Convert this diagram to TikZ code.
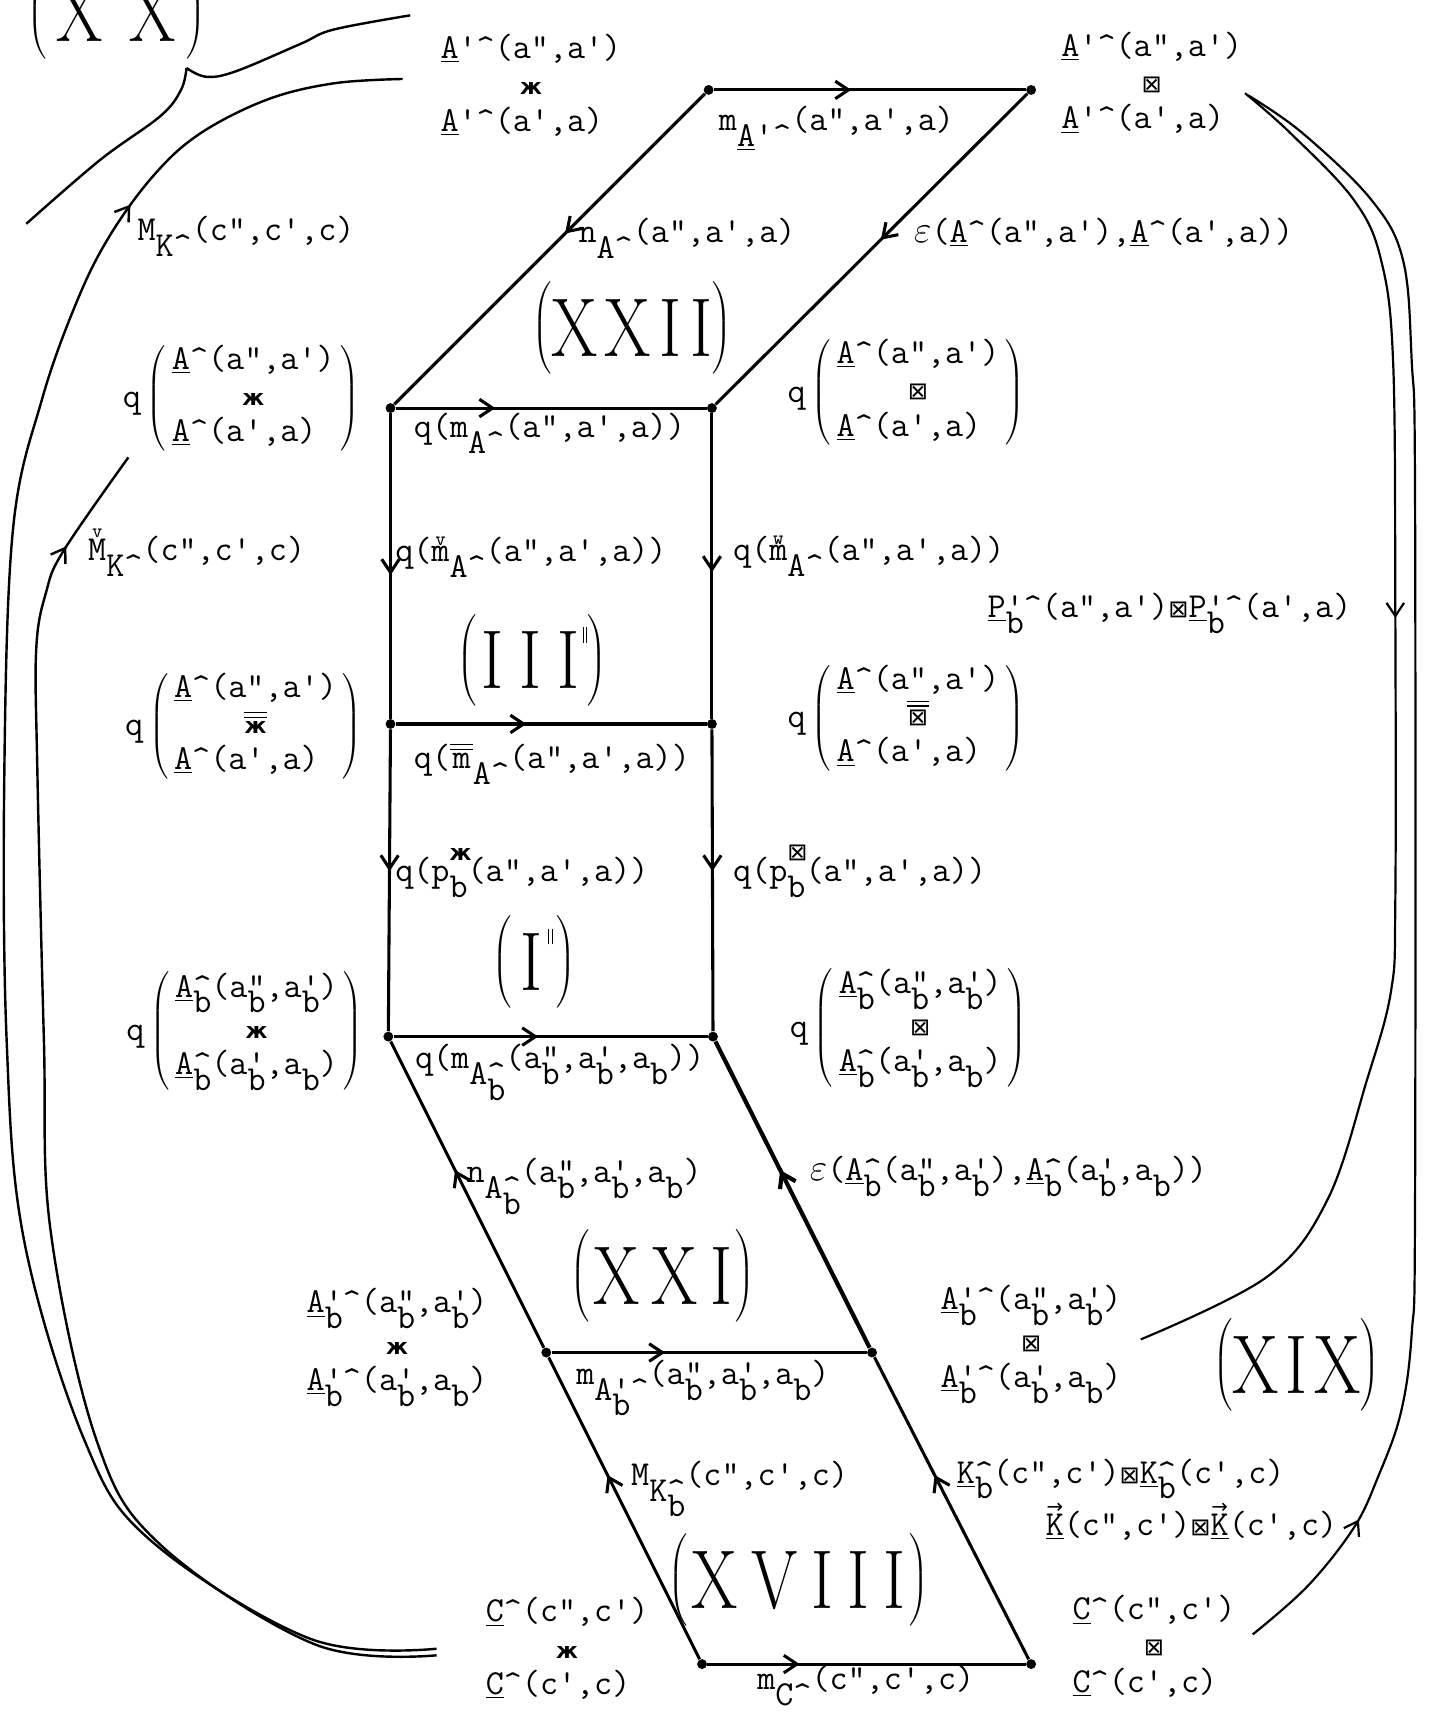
\documentclass[tikz,border=0pt]{standalone}
\usepackage{fontspec}
\usepackage{graphicx}
\usetikzlibrary{arrows.meta,decorations.markings}
\newfontfamily\dv{DejaVu Sans}
\newcommand\dn[1]{\raisebox{-0.45em}{#1}}
\newcommand\crt{\textasciicircum}
\newcommand\pb[1]{\rlap{#1}\dn{b}}
\newcommand\ps[2]{\rlap{\raisebox{0.6em}{#1}}\dn{#2}}
\newcommand\ul[1]{\underline{#1}}
\newcommand\zh{{\dv\bfseries\fontsize{10}{10}\selectfont ж}}
\newcommand\bx{{\dv\fontsize{11}{11}\selectfont ⊠}}
\newcommand\acc[2]{\leavevmode\vbox{\offinterlineskip\halign{\hfil##\hfil\cr{\fontsize{9}{9}\selectfont #1}\cr\noalign{\kern0.5pt}#2\cr}}}
\newcommand\dbar[1]{\leavevmode\vbox{\offinterlineskip\halign{\hfil##\hfil\cr\rule{0.65em}{0.6pt}\cr\noalign{\kern1.6pt}\rule{0.65em}{0.6pt}\cr\noalign{\kern1.6pt}#1\cr}}}
\newcommand\ovec[1]{\acc{\dv →}{#1}}
\newcommand\stk[3]{\begin{tabular}{@{}l@{}}#1\\\multicolumn{1}{@{}c@{}}{#2}\\#3\end{tabular}}
\newcommand\qq[3]{q\,$\left(\vcenter{\hbox{\begin{tabular}{@{\,}l@{\,}}#1\\\multicolumn{1}{@{}c@{}}{#2}\\#3\end{tabular}}}\right)$}
\newcommand\rn[1]{{\rmfamily\fontsize{38}{38}\selectfont$\left(\vcenter{\hbox{\rule[-8pt]{0pt}{42pt}\scalebox{0.8}[1]{#1}}}\right)$}}
\newcommand\tick{\raisebox{21pt}{\rule{0.6pt}{7pt}\kern1.5pt\rule{0.6pt}{7pt}}}
\begin{document}
\begin{tikzpicture}[x=0.5pt,y=-0.5pt,
  every node/.style={font=\ttfamily\fontsize{16}{16.5}\selectfont, inner sep=0pt},
  lbl/.style={anchor=base west},
  vtx/.style={circle,fill,inner sep=0pt,minimum size=4.5pt},
  ln/.style={line width=1.4pt},
  crv/.style={line width=1.1pt},
  marr/.style={postaction={decorate},decoration={markings,mark=at position #1 with {\arrow{Straight Barb[length=6pt,width=8pt]}}}},
  rnum/.style={anchor=center}]
\fill[white] (0,0) rectangle (1305,1568);
\useasboundingbox (0,0) rectangle (1305,1568);

% vertices
\node[vtx] (P1) at (646,82) {};
\node[vtx] (P2) at (940,82) {};
\node[vtx] (P3) at (356,372) {};
\node[vtx] (P4) at (649,372) {};
\node[vtx] (P5) at (356,660) {};
\node[vtx] (P6) at (649,660) {};
\node[vtx] (P7) at (354,945) {};
\node[vtx] (P8) at (650,945) {};
\node[vtx] (P9) at (498,1233) {};
\node[vtx] (P10) at (795,1233) {};
\node[vtx] (P11) at (640,1517) {};
\node[vtx] (P12) at (940,1517) {};

% edges
\draw[ln,marr=0.44] (P1) -- (P2);
\draw[ln,marr=0.45] (P1) -- (P3);
\draw[ln,marr=0.47] (P2) -- (P4);
\draw[ln,marr=0.32] (P3) -- (P4);
\draw[ln,marr=0.53] (P3) -- (P5);
\draw[ln,marr=0.52] (P4) -- (P6);
\draw[ln,marr=0.42] (P5) -- (P6);
\draw[ln,marr=0.47] (P5) -- (P7);
\draw[ln,marr=0.47] (P6) -- (P8);
\draw[ln,marr=0.46] (P7) -- (P8);
\draw[ln,marr=0.58] (P9) -- (P7);
\draw[ln,line width=1.9pt,marr=0.58] (P10) -- (P8);
\draw[ln,marr=0.36] (P9) -- (P10);
\draw[ln,marr=0.61] (P11) -- (P9);
\draw[ln,marr=0.61] (P12) -- (P10);
\draw[ln,marr=0.29] (P11) -- (P12);

% object nodes
\node (tl) at (484,80) {\stk{\ul{A}'\crt(a",a')}{\zh}{\ul{A}'\crt(a',a)}};
\node (tr) at (1050,78) {\stk{\ul{A}'\crt(a",a')}{\bx}{\ul{A}'\crt(a',a)}};
\node (q1l) at (220,363) {\qq{\ul{A}\crt(a",a')}{\zh}{\ul{A}\crt(a',a)}};
\node (q1r) at (826,358) {\qq{\ul{A}\crt(a",a')}{\bx}{\ul{A}\crt(a',a)}};
\node (q2l) at (222,662) {\qq{\ul{A}\crt(a",a')}{\dbar{\zh}}{\ul{A}\crt(a',a)}};
\node (q2r) at (826,655) {\qq{\ul{A}\crt(a",a')}{\dbar{\bx}}{\ul{A}\crt(a',a)}};
\node (q3l) at (223,940) {\qq{\ul{A}\pb{\crt}(a\pb{"},a\pb{'})}{\zh}{\ul{A}\pb{\crt}(a\pb{'},a\dn{b})}};
\node (q3r) at (828,937) {\qq{\ul{A}\pb{\crt}(a\pb{"},a\pb{'})}{\bx}{\ul{A}\pb{\crt}(a\pb{'},a\dn{b})}};
\node (ab1) at (362,1228) {\stk{\ul{A}\pb{'}\crt(a\pb{"},a\pb{'})}{\zh}{\ul{A}\pb{'}\crt(a\pb{'},a\dn{b})}};
\node (ab2) at (940,1225) {\stk{\ul{A}\pb{'}\crt(a\pb{"},a\pb{'})}{\bx}{\ul{A}\pb{'}\crt(a\pb{'},a\dn{b})}};
\node (cc1) at (517,1505) {\stk{\ul{C}\crt(c",c')}{\zh}{\ul{C}\crt(c',c)}};
\node (cc2) at (1052,1503) {\stk{\ul{C}\crt(c",c')}{\bx}{\ul{C}\crt(c',c)}};

% edge labels
\node[lbl] (l1) at (655,119) {m\dn{\ul{A}'\crt}(a",a',a)};
\node[lbl] (l2) at (527,221) {n\dn{A\crt}(a",a',a)};
\node[lbl] (l3) at (833,221) {$\varepsilon$(\ul{A}\crt(a",a'),\ul{A}\crt(a',a))};
\node[lbl] (l4) at (377,399) {q(m\dn{A\crt}(a",a',a))};
\node[lbl] (l5) at (360,512) {q(\acc{v}{m}\dn{A\crt}(a",a',a))};
\node[lbl] (l6) at (668,511) {q(\acc{w}{m}\dn{A\crt}(a",a',a))};
\node[lbl] (l7) at (377,701) {q(\dbar{m}\dn{A\crt}(a",a',a))};
\node[lbl] (l8) at (360,804) {q(p\ps{\zh}{b}(a",a',a))};
\node[lbl] (l9) at (668,804) {q(p\ps{\bx}{b}(a",a',a))};
\node[lbl] (l10) at (378,974) {q(m\dn{A\pb{\crt}}(a\pb{"},a\pb{'},a\dn{b}))};
\node[lbl] (l11) at (425,1078) {n\dn{A\pb{\crt}}(a\pb{"},a\pb{'},a\dn{b})};
\node[lbl] (l12) at (738,1076) {$\varepsilon$(\ul{A}\pb{\crt}(a\pb{"},a\pb{'}),\ul{A}\pb{\crt}(a\pb{'},a\dn{b}))};
\node[lbl] (l13) at (525,1262) {m\dn{A\pb{'}\crt}(a\pb{"},a\pb{'},a\dn{b})};
\node[lbl] (l14) at (575,1354) {M\dn{K\pb{\crt}}(c",c',c)};
\node[lbl] (l15) at (872,1352) {\ul{K}\pb{\crt}(c",c')\bx\ul{K}\pb{\crt}(c',c)};
\node[lbl] (l16) at (953,1400) {\ovec{\ul{K}}(c",c')\bx\ovec{\ul{K}}(c',c)};
\node[lbl] (l17) at (690,1540) {m\dn{C\crt}(c",c',c)};
\node[lbl] (l18) at (125,219) {M\dn{K\crt}(c",c',c)};
\node[lbl] (l19) at (80,511) {\acc{v}{M}\dn{K\crt}(c",c',c)};
\node[lbl] (l20) at (900,563) {\ul{P}\pb{'}\crt(a",a')\bx\ul{P}\pb{'}\crt(a',a)};

% region names
\node[rnum] (r20) at (106,12) {\rn{\kern6pt X\kern15pt X\kern6pt}};
\node[rnum] (r22) at (576,299) {\rn{X\kern4pt X\kern5pt I\kern5pt I}};
\node[rnum] (r3) at (485,602) {\rn{\kern3pt I\kern9pt I\kern9pt I\kern2pt\tick}};
\node[rnum] (r1) at (487,877) {\rn{\kern5pt I\kern3pt\tick\kern2pt}};
\node[rnum] (r21) at (604,1163) {\rn{\kern2pt X\kern7pt X\kern7pt I\kern2pt}};
\node[rnum] (r19) at (1182,1244) {\rn{X\kern4pt I\kern4pt X}};
\node[rnum] (r18) at (728,1440) {\rn{\kern2pt X\kern8pt V\kern8pt I\kern8pt I\kern8pt I\kern2pt}};

% curve end points
\coordinate (lo0) at (398,1503);
\coordinate (lo1) at (367,72);
\coordinate (li0) at (398,1509);
\coordinate (li1) at (117,417);
\coordinate (xa) at (24,204);
\coordinate (xc) at (170,62);
\coordinate (xb) at (374,14);
\coordinate (ri0) at (1135,85);
\coordinate (ri1) at (1040,1221);
\coordinate (ro0) at (1142,1490);
\coordinate (ro1) at (1138,87);

% left curves
\draw[crv,marr=0.845] plot[smooth,tension=0.6] coordinates {(lo0) (283,1494) (137,1404) (77,1313) (22,1131) (6,947) (4,700) (12,481) (38,365) (70,275) (100,215) (140,160) (182,122) (243,91) (304,76) (lo1)};
\draw[crv,marr=0.925] plot[smooth,tension=0.6] coordinates {(li0) (287,1499) (146,1408) (88,1313) (46,1121) (40,947) (34,700) (33,592) (42,540) (58,502) (li1)};
\draw[crv] plot[smooth,tension=0.6] coordinates {(xa) (91,146) (146,106) (165,82) (xc)}
  plot[smooth,tension=0.6] coordinates {(xc) (188,70) (215,65) (274,40) (304,27) (xb)};

% right curves
\draw[line width=1pt,marr=0.41] plot[smooth,tension=0.6] coordinates {(ri0) (1176,121) (1234,182) (1259,237) (1270,330) (1272,555) (1272,822) (1268,904) (1246,985) (1210,1094) (1155,1164) (ri1)};
\draw[line width=1pt,marr=0.095] plot[smooth,tension=0.6] coordinates {(ro0) (1192,1446) (1234,1393) (1256,1347) (1277,1288) (1287,1215) (1290,1094) (1290,456) (1287,330) (1279,237) (1250,182) (1187,121) (ro1)};
\end{tikzpicture}
\end{document}
